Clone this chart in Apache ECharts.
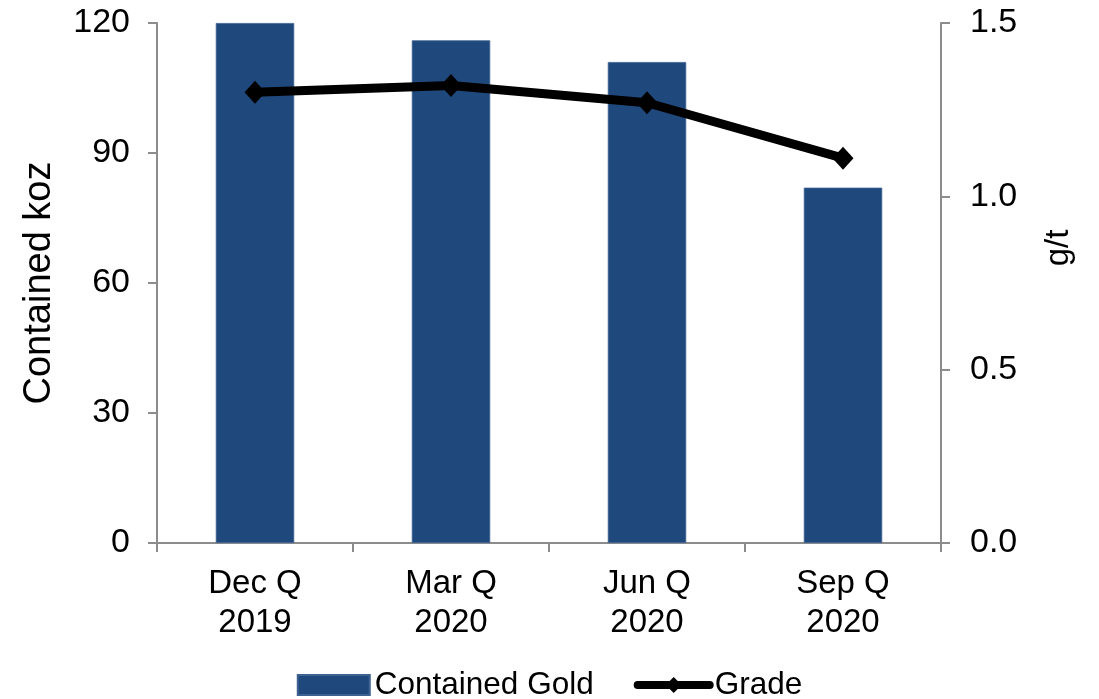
<!DOCTYPE html>
<html>
<head>
<meta charset="utf-8">
<script src="https://cdn.jsdelivr.net/npm/echarts@6/dist/echarts.min.js"></script>
<style>
  html, body { margin: 0; padding: 0; background: #fff; }
  #chart { width: 1099px; height: 699px; }
</style>
</head>
<body>
<div id="chart"></div>
<script>
// Quarterly contained gold (koz) and head grade (g/t)
const quarters = ['Dec Q\n2019', 'Mar Q\n2020', 'Jun Q\n2020', 'Sep Q\n2020'];
const containedGold = [120, 116, 111, 82];
const grade = [1.30, 1.32, 1.27, 1.11];
const leftTicks = { min: 0, max: 120, interval: 30 };
const rightTicks = { min: 0, max: 1.5, interval: 0.5 };

const FONT = '"Liberation Sans", Arial, sans-serif';
const AXIS_GREY = '#8c8c8c';
const BAR_BLUE = '#1F497D';

const chart = echarts.init(document.getElementById('chart'), null, { renderer: 'canvas' });

const axisLineStyle = { show: true, lineStyle: { color: AXIS_GREY, width: 2 } };
const axisTickStyle = { show: true, length: 9, lineStyle: { color: AXIS_GREY, width: 2 } };

chart.setOption({
  animation: false,
  backgroundColor: '#ffffff',
  textStyle: { fontFamily: FONT },
  grid: { left: 157, right: 158, top: 23, bottom: 156, containLabel: false },
  legend: {
    top: 664,
    left: 'center',
    itemWidth: 72,
    itemHeight: 20,
    itemGap: 40,
    textStyle: { fontFamily: FONT, fontSize: 31.5, color: '#000' },
    data: [
      { name: 'Contained Gold', icon: 'rect' },
      { name: 'Grade', lineStyle: { width: 8, cap: 'round', color: '#000' } }
    ]
  },
  xAxis: {
    type: 'category',
    data: quarters,
    boundaryGap: true,
    axisLine: axisLineStyle,
    axisTick: Object.assign({ alignWithLabel: false }, axisTickStyle),
    axisLabel: {
      color: '#000', fontFamily: FONT, fontSize: 33, lineHeight: 39, margin: 21,
      interval: 0
    },
    splitLine: { show: false }
  },
  yAxis: [
    {
      type: 'value',
      position: 'left',
      min: leftTicks.min, max: leftTicks.max, interval: leftTicks.interval,
      name: 'Contained koz',
      nameLocation: 'middle',
      nameGap: 98,
      nameRotate: 90,
      nameTextStyle: { color: '#000', fontFamily: FONT, fontSize: 38 },
      axisLine: axisLineStyle,
      axisTick: axisTickStyle,
      axisLabel: { color: '#000', fontFamily: FONT, fontSize: 34, margin: 27 },
      splitLine: { show: false }
    },
    {
      type: 'value',
      position: 'right',
      min: rightTicks.min, max: rightTicks.max, interval: rightTicks.interval,
      name: 'g/t',
      nameLocation: 'middle',
      nameGap: 101,
      nameRotate: 90,
      nameTextStyle: { color: '#000', fontFamily: FONT, fontSize: 33, padding: [0, 0, 0, 70] },
      axisLine: axisLineStyle,
      axisTick: axisTickStyle,
      axisLabel: {
        color: '#000', fontFamily: FONT, fontSize: 34, margin: 29,
        formatter: v => v.toFixed(1)
      },
      splitLine: { show: false }
    }
  ],
  series: [
    {
      name: 'Contained Gold',
      type: 'bar',
      yAxisIndex: 0,
      data: containedGold,
      barWidth: '40%',
      itemStyle: { color: BAR_BLUE, borderColor: '#3d6190', borderWidth: 0.8 },
      z: 2
    },
    {
      name: 'Grade',
      type: 'line',
      yAxisIndex: 1,
      data: grade,
      symbol: 'diamond',
      symbolSize: [21, 23],
      lineStyle: { color: '#000', width: 9 },
      itemStyle: { color: '#000' },
      z: 3
    }
  ]
});
</script>
</body>
</html>
